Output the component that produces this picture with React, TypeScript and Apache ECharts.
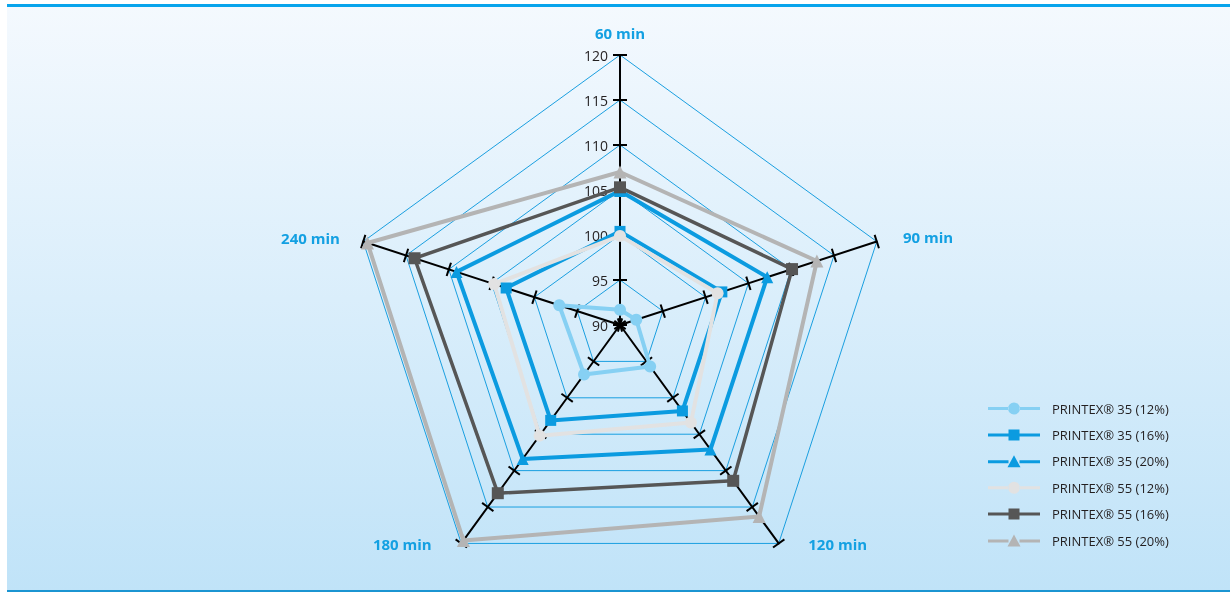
import React, { useEffect, useRef } from "react";
import * as echarts from "echarts";

const indicatorNames = ["60 min", "90 min", "120 min", "180 min", "240 min"];
const axisMin = 90;
const axisMax = 120;
const splitCount = 6;

const seriesNames = [
  "PRINTEX® 35 (12%)",
  "PRINTEX® 35 (16%)",
  "PRINTEX® 35 (20%)",
  "PRINTEX® 55 (12%)",
  "PRINTEX® 55 (16%)",
  "PRINTEX® 55 (20%)",
];

// values in the order of indicatorNames
const p35_12 = [91.7, 91.9, 95.7, 96.8, 97.1];
const p35_16 = [100.4, 101.9, 101.8, 103.1, 103.3];
const p35_20 = [104.9, 107.2, 107.1, 108.4, 109.1];
const p55_12 = [99.9, 101.4, 103.4, 105.2, 104.7];
const p55_16 = [105.3, 110.1, 111.4, 113.1, 114.0];
const p55_20 = [107.0, 113.0, 116.3, 119.6, 119.5];

const seriesValues = [p35_12, p35_16, p35_20, p55_12, p55_16, p55_20];
const seriesColors = ["#86d0f3", "#0b9be0", "#0b9be0", "#e2e2e2", "#565656", "#b4b4b4"];
const seriesSymbols = ["circle", "rect", "triangle", "circle", "rect", "triangle"];
const seriesSymbolSizes = [12, 11, 12, 12, 12, 13];
const seriesLineWidths = [4, 4, 4, 4, 3.5, 4];

// ECharts lays indicators out counter-clockwise; the chart runs clockwise
const displayOrder = [0, 4, 3, 2, 1];

const FONT = "'Open Sans', 'Noto Sans', sans-serif";

const legendIcons: Record<string, string> = {
  circle:
    "path://M0,4.5h20.5v3H0z M31.5,4.5H52v3H31.5z M20,6a6,6 0 1,0 12,0a6,6 0 1,0 -12,0z",
  rect: "path://M0,4.5h20.5v3H0z M31.5,4.5H52v3H31.5z M20.5,0.5h11v11h-11z",
  triangle: "path://M0,5h20.5v3H0z M31.5,5H52v3H31.5z M26,0L32.5,12H19.5z",
};

// name placement per indicator (indexed like indicatorNames)
const nameStyles: any[] = [
  { nameGap: 15 },
  { nameGap: 16, nameTextStyle: { align: "left", verticalAlign: "middle", padding: [0, 0, 0, 11] } },
  { nameGap: 1, nameTextStyle: { align: "left", verticalAlign: "middle", padding: [0, 0, 0, 29] } },
  { nameGap: 1, nameTextStyle: { align: "right", verticalAlign: "middle", padding: [0, 29, 0, 0] } },
  { nameGap: 13, nameTextStyle: { align: "right", verticalAlign: "middle", padding: [0, 11, 0, 0] } },
];

export default function App() {
  const ref = useRef<HTMLDivElement>(null);

  useEffect(() => {
    if (!ref.current) return;
    const chart = echarts.init(ref.current, null, { renderer: "svg" });

    const baseRadar = {
      center: [620, 325],
      radius: 270,
      startAngle: 90,
      splitNumber: splitCount,
      shape: "polygon",
    };

    const option: any = {
      animation: false,
      graphic: {
        elements: [
          {
            type: "rect",
            z: -10,
            silent: true,
            shape: { x: 7, y: 6, width: 1223, height: 585 },
            style: {
              fill: new echarts.graphic.LinearGradient(0, 0, 0, 1, [
                { offset: 0, color: "#f4f9fe" },
                { offset: 1, color: "#c0e3f8" },
              ]),
            },
          },
          {
            type: "rect",
            z: -9,
            silent: true,
            shape: { x: 7, y: 4, width: 1223, height: 3 },
            style: { fill: "#08a4ec" },
          },
          {
            type: "rect",
            z: -9,
            silent: true,
            shape: { x: 7, y: 590, width: 1223, height: 2 },
            style: { fill: "#1b95d2" },
          },
        ],
      },
      legend: {
        orient: "vertical",
        left: 988,
        top: 402,
        padding: 0,
        itemWidth: 52,
        itemHeight: 12,
        itemGap: 13.4,
        selectedMode: false,
        textStyle: { color: "#231f20", fontSize: 13, fontFamily: FONT, padding: [0, 0, 0, 7] },
        data: seriesNames.map((n, i) => ({ name: n, icon: legendIcons[seriesSymbols[i]] })),
      },
      radar: [
        {
          ...baseRadar,
          indicator: displayOrder.map((k) => ({
            name: indicatorNames[k],
            min: axisMin,
            max: axisMax,
            axisLabel: { show: k === 0 },
            ...nameStyles[k],
          })),
          axisName: {
            color: "#13a0e2",
            fontWeight: "bold",
            fontSize: 15,
            fontFamily: FONT,
          },
          splitLine: { lineStyle: { color: "#1a9fe0", width: 1 } },
          splitArea: { show: false },
          axisLine: { lineStyle: { color: "#000", width: 2 } },
          axisTick: { show: true, length: 7, lineStyle: { color: "#000", width: 2 } },
          axisLabel: {
            show: true,
            color: "#231f20",
            fontSize: 14,
            fontFamily: FONT,
            margin: 12,
            showMinLabel: true,
            showMaxLabel: true,
          },
        },
        {
          ...baseRadar,
          indicator: displayOrder.map((k) => ({ name: indicatorNames[k], min: axisMin, max: axisMax })),
          axisName: { show: false },
          splitLine: { show: false },
          splitArea: { show: false },
          axisLine: { show: false },
          axisTick: { show: true, length: -7, lineStyle: { color: "#000", width: 2 } },
          axisLabel: { show: false },
        },
      ],
      series: seriesNames.map((n, i) => ({
        type: "radar",
        name: n,
        radarIndex: 0,
        symbol: seriesSymbols[i],
        symbolSize: seriesSymbolSizes[i],
        lineStyle: { color: seriesColors[i], width: seriesLineWidths[i] },
        itemStyle: { color: seriesColors[i] },
        data: [{ value: displayOrder.map((k) => seriesValues[i][k]), name: n }],
      })),
    };

    chart.setOption(option);
    return () => chart.dispose();
  }, []);

  return (
    <div
      ref={ref}
      style={{ position: "fixed", left: 0, top: 0, width: 1230, height: 592 }}
    />
  );
}
